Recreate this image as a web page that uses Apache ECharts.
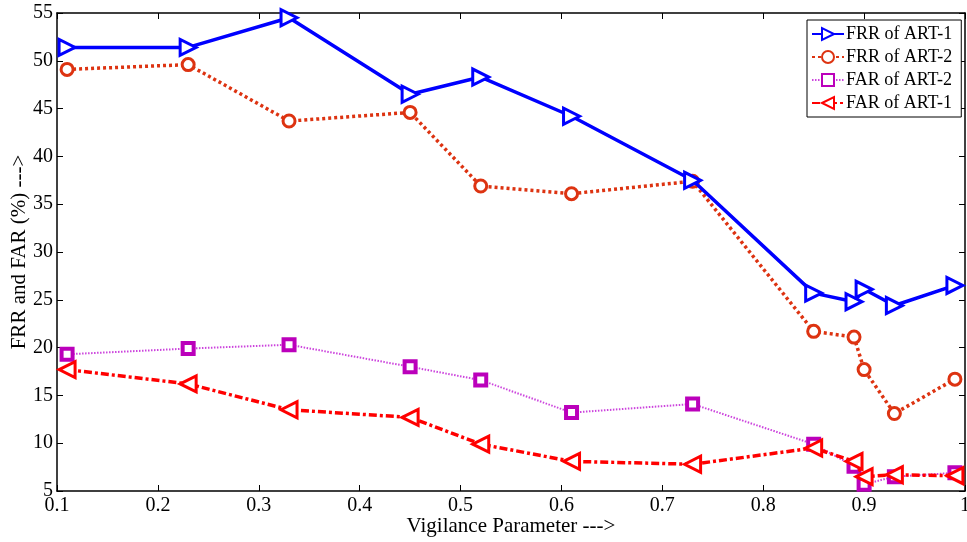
<!DOCTYPE html>
<html>
<head>
<meta charset="utf-8">
<script src="https://cdn.jsdelivr.net/npm/echarts@6/dist/echarts.min.js"></script>
<style>html,body{margin:0;padding:0;background:#fff;}#c{width:967px;height:542px;}</style>
</head>
<body>
<div id="c"></div>
<script>
const vigilance = [0.11, 0.23, 0.33, 0.45, 0.52, 0.61, 0.73, 0.85, 0.89, 0.90, 0.93, 0.99];
const frrArt1 = [51.4, 51.4, 54.5, 46.5, 48.3, 44.2, 37.5, 25.7, 24.8, 26.1, 24.4, 26.5];
const frrArt2 = [49.1, 49.6, 43.7, 44.6, 36.9, 36.1, 37.4, 21.7, 21.1, 17.7, 13.1, 16.7];
const farArt2 = [19.3, 19.9, 20.3, 18.0, 16.6, 13.2, 14.1, 9.9, 7.6, 5.7, 6.5, 6.9];
const farArt1 = [17.7, 16.2, 13.5, 12.7, 9.9, 8.1, 7.8, 9.5, 8.1, 6.5, 6.7, 6.6];
const seriesNames = ['FRR of ART-1', 'FRR of ART-2', 'FAR of ART-2', 'FAR of ART-1'];

function pairs(ys) { return vigilance.map((x, i) => [x, ys[i]]); }
const font = 'Liberation Serif, Times New Roman, serif';

const chart = echarts.init(document.getElementById('c'), null, {renderer: 'canvas'});
const axisCommon = {
  axisLine: {show: true, onZero: false, lineStyle: {color: '#000', width: 1.5}},
  axisTick: {show: true, inside: true, length: 6, lineStyle: {color: '#000', width: 1}},
  splitLine: {show: false}
};
chart.setOption({
  animation: false,
  backgroundColor: '#fff',
  grid: {left: 57, right: 2, top: 13, bottom: 51, containLabel: false, outerBoundsMode: 'none'},
  legend: {
    data: seriesNames,
    orient: 'vertical',
    left: 807, top: 20,
    width: 156,
    padding: [5, 9, 5, 4],
    itemGap: 5,
    itemWidth: 32, itemHeight: 15,
    backgroundColor: '#fff',
    borderColor: '#000', borderWidth: 1,
    textStyle: {fontFamily: font, fontSize: 18, color: '#000', padding: [0, 0, 0, -3]}
  },
  xAxis: [
    Object.assign({}, axisCommon, {
      type: 'value', min: 0.1, max: 1, interval: 0.1, position: 'bottom',
      name: 'Vigilance Parameter --->', nameLocation: 'middle', nameGap: 25, nameMoveOverlap: false,
      nameTextStyle: {fontFamily: font, fontSize: 21, color: '#000'},
      axisLabel: {fontFamily: font, fontSize: 20, color: '#000', margin: 5,
        formatter: v => (Math.round(v * 10) / 10).toString()}
    }),
    Object.assign({}, axisCommon, {
      type: 'value', min: 0.1, max: 1, interval: 0.1, position: 'top',
      axisLabel: {show: false}
    })
  ],
  yAxis: [
    Object.assign({}, axisCommon, {
      type: 'value', min: 5, max: 55, interval: 5, position: 'left',
      name: 'FRR and FAR (%) --->', nameLocation: 'middle', nameGap: 27, nameRotate: 90, nameMoveOverlap: false,
      nameTextStyle: {fontFamily: font, fontSize: 21, color: '#000'},
      axisLabel: {fontFamily: font, fontSize: 20, color: '#000', margin: 4}
    }),
    Object.assign({}, axisCommon, {
      type: 'value', min: 5, max: 55, interval: 5, position: 'right',
      axisLabel: {show: false}
    })
  ],
  series: [
    {
      name: seriesNames[0], type: 'line', data: pairs(frrArt1),
      symbol: 'triangle', symbolSize: 16, symbolRotate: -90, showAllSymbol: true,
      lineStyle: {color: '#0000ff', width: 3.5, type: 'solid'},
      itemStyle: {color: '#ffffff', borderColor: '#0000ff', borderWidth: 3},
      z: 4
    },
    {
      name: seriesNames[1], type: 'line', data: pairs(frrArt2),
      symbol: 'circle', symbolSize: 12,
      lineStyle: {color: '#dd3311', width: 3.5, type: [3, 3]},
      itemStyle: {color: '#ffffff', borderColor: '#dd3311', borderWidth: 3},
      z: 3
    },
    {
      name: seriesNames[2], type: 'line', data: pairs(farArt2),
      symbol: 'rect', symbolSize: 11,
      lineStyle: {color: '#cc44dd', width: 2, type: [1.5, 1.5]},
      itemStyle: {color: '#ffffff', borderColor: '#bb00bb', borderWidth: 4},
      z: 2
    },
    {
      name: seriesNames[3], type: 'line', data: pairs(farArt1),
      symbol: 'triangle', symbolSize: 16, symbolRotate: 90,
      lineStyle: {color: '#ff0000', width: 3.5, type: [8, 3, 3, 3]},
      itemStyle: {color: '#ffffff', borderColor: '#ff0000', borderWidth: 3},
      z: 5
    }
  ]
});
</script>
</body>
</html>
